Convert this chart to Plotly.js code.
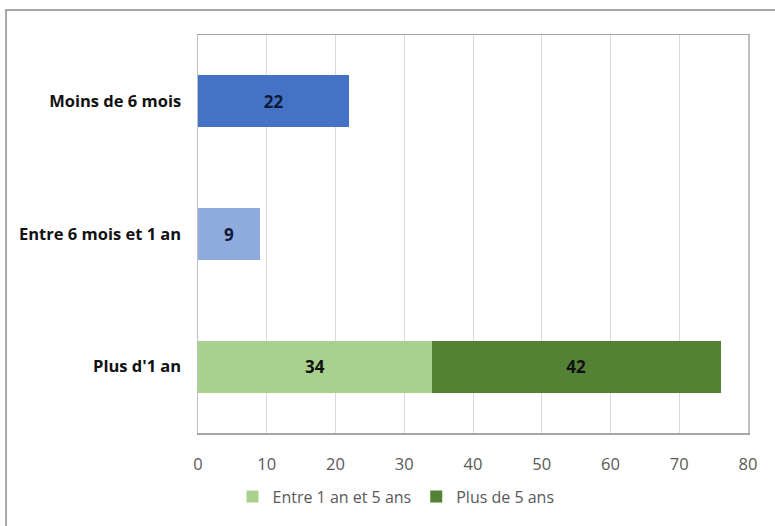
<!DOCTYPE html>
<html><head><meta charset="utf-8">
<script src="https://cdn.plot.ly/plotly-3.0.1.min.js"></script>
<style>html,body{margin:0;padding:0;background:#fff}#chart{width:775px;height:526px}</style>
</head><body><div id="chart"></div>
<script>
const categories = ["Moins de 6 mois", "Entre 6 mois et 1 an", "Plus d'1 an"];
const moinsSixMois = [22];
const entreSixMoisUnAn = [9];
const entreUnEtCinqAns = [34];
const plusDeCinqAns = [42];
const xTicks = [0, 10, 20, 30, 40, 50, 60, 70, 80];

const FONT = "Open Sans, Liberation Sans, sans-serif";
function barTrace(name, cat, vals, color, showLegend, txtColor) {
  return {
    type: "bar", orientation: "h", name: name,
    y: [cat], x: vals,
    marker: {color: color},
    text: vals.map(String), textposition: "inside", insidetextanchor: "middle",
    textfont: {family: FONT, size: 17, color: txtColor, weight: "bold"},
    showlegend: showLegend, width: 0.39, hoverinfo: "x+y"
  };
}
const data = [
  barTrace("Moins de 6 mois", categories[0], moinsSixMois, "#4472C4", false, "#0d1a3a"),
  barTrace("Entre 6 mois et 1 an", categories[1], entreSixMoisUnAn, "#8FAADC", false, "#0d1a3a"),
  barTrace("Entre 1 an et 5 ans", categories[2], entreUnEtCinqAns, "#A9D18E", true, "#111"),
  barTrace("Plus de 5 ans", categories[2], plusDeCinqAns, "#548235", true, "#111")
];
const layout = {
  width: 775, height: 526,
  margin: {l: 198, r: 27, t: 35, b: 93},
  paper_bgcolor: "#fff", plot_bgcolor: "#fff",
  barmode: "stack",
  uniformtext: {mode: false},
  xaxis: {
    range: [0, 80], tickvals: xTicks, ticktext: xTicks.map(String),
    showgrid: true, gridcolor: "#d9d9d9", gridwidth: 1,
    showline: true, linecolor: "#a6a6a6", linewidth: 1.5, mirror: true,
    zeroline: false, ticks: "", ticklabelstandoff: 16,
    tickfont: {family: FONT, size: 16.5, color: "#595959"},
    fixedrange: true
  },
  yaxis: {
    type: "category", categoryorder: "array", categoryarray: categories,
    autorange: "reversed",
    showgrid: false, showline: true, linecolor: "#bfbfbf", linewidth: 1.5, mirror: true,
    ticks: "", ticklabelstandoff: 12,
    tickfont: {family: FONT, size: 16.5, color: "#111", weight: "bold"},
    fixedrange: true
  },
  legend: {
    orientation: "h", x: 0.36, xanchor: "center", y: -0.16, yanchor: "middle",
    font: {family: FONT, size: 16, color: "#595959"},
    traceorder: "normal", itemwidth: 20
  },
  shapes: [{
    type: "rect", xref: "paper", yref: "paper",
    x0: -0.349, x1: 1.1, y0: -0.3, y1: 1.0628,
    line: {color: "#8c8c8c", width: 1.5}, fillcolor: "rgba(0,0,0,0)", layer: "below"
  }]
};
Plotly.newPlot("chart", data, layout, {displayModeBar: false, staticPlot: true});
</script></body></html>
